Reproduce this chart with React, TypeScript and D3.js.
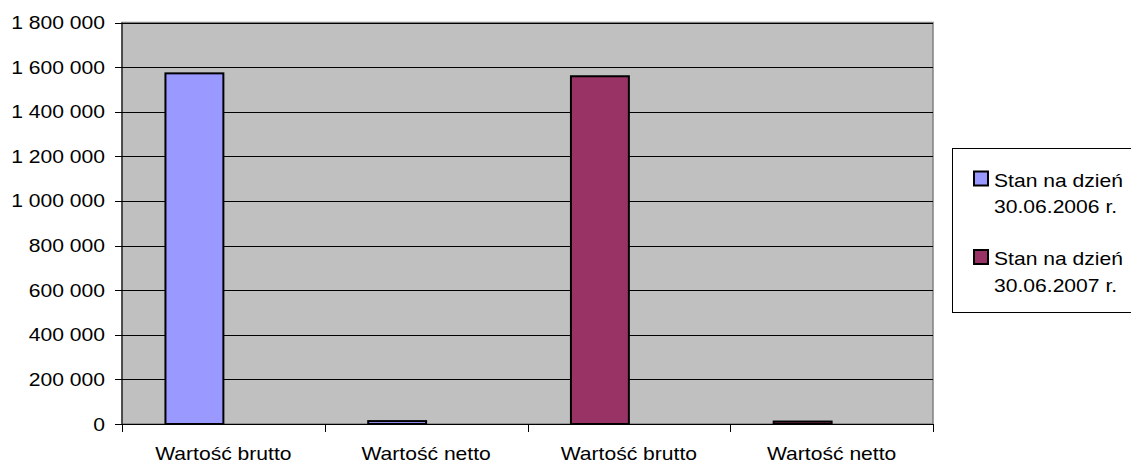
import React from "react";
import * as d3 from "d3";

const categories = ["Wartość brutto", "Wartość netto", "Wartość brutto", "Wartość netto"];
const seriesNames = [["Stan na dzień", "30.06.2006 r."], ["Stan na dzień", "30.06.2007 r."]];
const series2006 = [1572000, 13000, 0, 0];
const series2007 = [0, 0, 1559000, 11000];
const seriesColors = ["#9999FF", "#993366"];
const yTicks = [0, 200000, 400000, 600000, 800000, 1000000, 1200000, 1400000, 1600000, 1800000];

const W = 1131;
const H = 463;
const M = { left: 122, top: 22.5, right: 933, bottom: 424 };
const FONT = "'Liberation Sans', Arial, sans-serif";
const FS = 18.2;
const SX = 1.16;

const fmt = (v: number) => d3.format(",")(v).replace(/,/g, " ");

export default function App() {
  const x = d3.scaleBand<number>().domain(d3.range(categories.length)).range([M.left, M.right]).padding(0);
  const slot = d3.scaleBand<string>().domain(["a", "b"]).range([0, x.bandwidth()]).paddingInner(0).paddingOuter(0.75);
  const y = d3.scaleLinear().domain([0, 1800000]).range([M.bottom, M.top]);

  const bars: { i: number; v: number; c: string }[] = [];
  categories.forEach((_, i) => {
    if (series2006[i] > 0) bars.push({ i, v: series2006[i], c: seriesColors[0] });
    if (series2007[i] > 0) bars.push({ i, v: series2007[i], c: seriesColors[1] });
  });

  const legX = 952.5;
  const legY = 148.5;

  return (
    <div style={{ position: "absolute", left: 0, top: 0 }}>
      <svg width={W} height={H} style={{ display: "block", background: "#fff" }} fontFamily={FONT}>
        <rect x={M.left} y={M.top} width={M.right - M.left} height={M.bottom - M.top} fill="#C0C0C0" stroke="#808080" strokeWidth={1.5} />
        {yTicks.slice(1).map((t) => (
          <line key={t} x1={M.left} x2={M.right} y1={Math.round(y(t)) + 0.5} y2={Math.round(y(t)) + 0.5} stroke="#000" strokeWidth={1} />
        ))}
        {bars.map((b, k) => {
          const bx = (x(b.i) as number) + (slot("a") as number);
          const top = y(b.v);
          return (
            <rect key={k} x={bx} y={top} width={slot.bandwidth()} height={M.bottom - top} fill={b.c} stroke="#000" strokeWidth={2} />
          );
        })}
        <line x1={M.left} x2={M.left} y1={M.top} y2={M.bottom} stroke="#000" strokeWidth={1} />
        <line x1={M.left - 7} x2={M.right} y1={M.bottom + 0.5} y2={M.bottom + 0.5} stroke="#000" strokeWidth={1} />
        {yTicks.map((t) => (
          <g key={t}>
            <line x1={M.left - 7} x2={M.left} y1={Math.round(y(t)) + 0.5} y2={Math.round(y(t)) + 0.5} stroke="#000" />
            <text transform={`translate(105,${y(t) + 6.5}) scale(${SX},1)`} textAnchor="end" fontSize={FS} fill="#000">
              {fmt(t)}
            </text>
          </g>
        ))}
        {d3.range(categories.length + 1).map((i) => {
          const tx = Math.round(M.left + i * x.bandwidth()) + 0.5;
          return <line key={i} x1={tx} x2={tx} y1={M.bottom} y2={M.bottom + 8} stroke="#000" />;
        })}
        {categories.map((c, i) => (
          <text key={i} transform={`translate(${(x(i) as number) + x.bandwidth() / 2},460) scale(${SX},1)`} textAnchor="middle" fontSize={FS} fill="#000">
            {c}
          </text>
        ))}
        <rect x={legX} y={legY} width={200} height={312.5 - legY} fill="#fff" stroke="#000" strokeWidth={1} />
        {seriesNames.map((n, k) => {
          const base = 186.5 + k * 78.5;
          return (
            <g key={k}>
              <rect x={974} y={base - 15} width={14} height={14} fill={seriesColors[k]} stroke="#000" strokeWidth={2} />
              <text transform={`translate(994,${base}) scale(${SX},1)`} fontSize={FS} fill="#000">{n[0]}</text>
              <text transform={`translate(994,${base + 26.5}) scale(${SX},1)`} fontSize={FS} fill="#000">{n[1]}</text>
            </g>
          );
        })}
      </svg>
    </div>
  );
}
